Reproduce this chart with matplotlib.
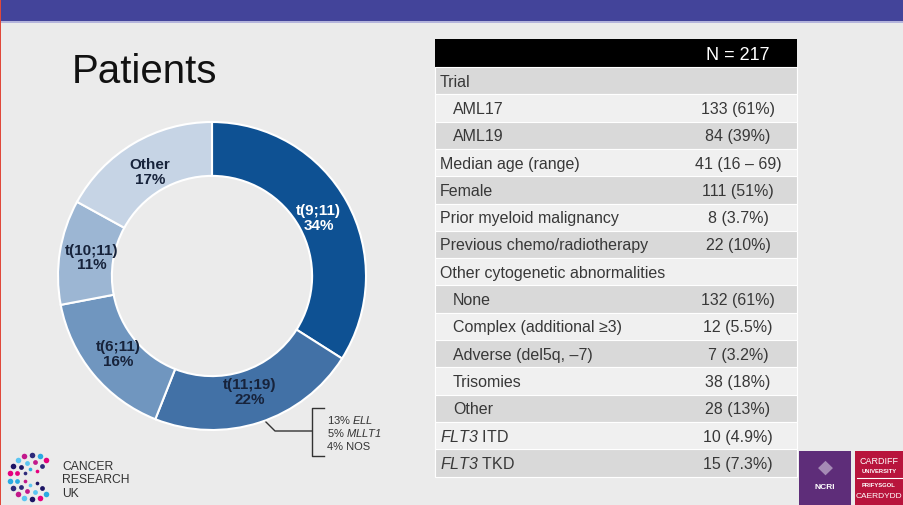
import numpy as np
import matplotlib
matplotlib.use('Agg')
import matplotlib.pyplot as plt
from matplotlib.patches import Rectangle

plt.rcParams['font.family'] = ['Liberation Sans', 'DejaVu Sans']
plt.rcParams['mathtext.fontset'] = 'custom'
plt.rcParams['mathtext.rm'] = 'Liberation Sans'
# sf slot used for italic gene names, so digits stay italic too
plt.rcParams['mathtext.sf'] = 'Liberation Sans:italic'

# donut data
groups = ['t(9;11)', 't(11;19)', 't(6;11)', 't(10;11)', 'Other']
shares = [34, 22, 16, 11, 17]
slice_colors = ['#0E5193', '#4271A6', '#7096BF', '#9CB6D3', '#C6D4E5']
label_colors = ['white', '#17233B', '#17233B', '#17233B', '#17233B']
sub_11_19 = ['13% $\\mathsf{ELL}$', '5% $\\mathsf{MLLT1}$', '4% NOS']

# table data
row_labels = ['Trial', 'AML17', 'AML19', 'Median age (range)', 'Female',
              'Prior myeloid malignancy', 'Previous chemo/radiotherapy',
              'Other cytogenetic abnormalities', 'None', 'Complex (additional \u22653)',
              'Adverse (del5q, \u20137)', 'Trisomies', 'Other',
              '$\\mathsf{FLT3}$ ITD', '$\\mathsf{FLT3}$ TKD']
row_values = ['', '133 (61%)', '84 (39%)', '41 (16 \u2013 69)', '111 (51%)',
              '8 (3.7%)', '22 (10%)', '', '132 (61%)', '12 (5.5%)',
              '7 (3.2%)', '38 (18%)', '28 (13%)', '10 (4.9%)', '15 (7.3%)']
indented = [False, True, True, False, False, False, False, False,
            True, True, True, True, True, False, False]
header = 'N = 217'

W, H = 904, 506
fig = plt.figure(figsize=(W / 100, H / 100), dpi=100)
fig.patch.set_facecolor('#EBEBEB')

bg = fig.add_axes([0, 0, 1, 1])
bg.set_xlim(0, W)
bg.set_ylim(H, 0)
bg.axis('off')

# top bar and left edge line
bg.add_patch(Rectangle((0, 0), W, 22, color='#43449A', lw=0))
bg.add_patch(Rectangle((0, 22), W, 1.5, color='#B4B4DC', lw=0))
bg.add_patch(Rectangle((0, 0), 1.5, H, color='#E0483A', lw=0))

bg.text(72, 83, 'Patients', fontsize=29, color='#111111', va='baseline', ha='left')

# donut
cx, cy, R = 212, 277, 154
ax = fig.add_axes([(cx - R) / W, (H - cy - R) / H, 2 * R / W, 2 * R / H])
wedges, _ = ax.pie(shares, colors=slice_colors, startangle=90, counterclock=False,
                   radius=1, wedgeprops=dict(width=0.35, edgecolor='white', linewidth=1.5))
ax.set_xlim(-1, 1)
ax.set_ylim(-1, 1)
ax.axis('off')
for w, g, s, c in zip(wedges, groups, shares, label_colors):
    mid = np.deg2rad((w.theta1 + w.theta2) / 2)
    ax.text(0.79 * np.cos(mid), 0.79 * np.sin(mid), '%s\n%d%%' % (g, s),
            ha='center', va='center', fontsize=11, fontweight='bold',
            color=c, linespacing=1.05)

# bracket for t(11;19) breakdown
w = wedges[1]
ang = np.deg2rad((w.theta1 + w.theta2) / 2 + 2)
x0, y0 = cx + R * np.cos(ang), cy - R * np.sin(ang)
bg.plot([x0, 275, 312], [y0, 432, 432], color='#333333', lw=1)
bg.plot([324, 312, 312, 324], [409, 409, 457, 457], color='#333333', lw=1)
for i, t in enumerate(sub_11_19):
    bg.text(327, 420 + 13.5 * i, t, fontsize=8, color='#333333', va='center', ha='left')

# table
tx0, tx1 = 435, 797
hy0, hy1 = 40, 68
rh = 27.3
vx = 738
bg.add_patch(Rectangle((tx0, hy0), tx1 - tx0, hy1 - hy0, color='black', lw=0))
bg.text(vx, (hy0 + hy1) / 2 + 1, header, fontsize=13, color='white', ha='center', va='center')
for i, (lab, val, ind) in enumerate(zip(row_labels, row_values, indented)):
    top = hy1 + rh * i
    fc = '#D9D9D9' if i % 2 == 0 else '#F0F0F0'
    bg.add_patch(Rectangle((tx0, top), tx1 - tx0, rh, facecolor=fc, edgecolor='white', lw=0.8))
    yc = top + rh / 2 + 0.5
    bg.text(453 if ind else 440, yc, lab, fontsize=11.5, color='#383838', ha='left', va='center')
    if val:
        bg.text(vx, yc, val, fontsize=11.5, color='#383838', ha='center', va='center')

# CRUK logo
dot_cols = ['#E5007E', '#2AAAE1', '#2E2A7A', '#C2188B', '#5BC5F2', '#1B1464']
k = 0
for r, n, sz in [(22, 14, 16), (15, 10, 12), (8, 6, 7)]:
    for a in np.linspace(np.deg2rad(50), np.deg2rad(310), n):
        bg.scatter(32 + r * np.cos(a), 478 - r * np.sin(a), s=sz,
                   color=dot_cols[k % len(dot_cols)], lw=0, zorder=3)
        k += 1
for i, t in enumerate(['CANCER', 'RESEARCH', 'UK']):
    bg.text(62, 467 + 13.3 * i, t, fontsize=8.7, color='#333333', ha='left', va='center')

# NCRI / Cardiff logos
bg.add_patch(Rectangle((799, 452), 52, 54, color='#5E2D79', lw=0))
bg.text(825, 468, '\u25C6', fontsize=14, color='#A58BB5', ha='center', va='center')
bg.text(825, 488, 'NCRI', fontsize=6, color='white', ha='center', va='center', fontweight='bold')
bg.add_patch(Rectangle((855, 452), 49, 54, color='#B8143C', lw=0))
bg.plot([857, 902], [479, 479], color='white', lw=0.8)
bg.text(879, 462, 'CARDIFF', fontsize=6.5, color='white', ha='center', va='center')
bg.text(879, 472, 'UNIVERSITY', fontsize=4.2, color='white', ha='center', va='center', fontweight='bold')
bg.text(879, 486, 'PRIFYSGOL', fontsize=4.2, color='white', ha='center', va='center', fontweight='bold')
bg.text(879, 497, 'CAERDYDD', fontsize=6, color='white', ha='center', va='center')

fig.savefig('out.png', dpi=100, facecolor=fig.get_facecolor())
